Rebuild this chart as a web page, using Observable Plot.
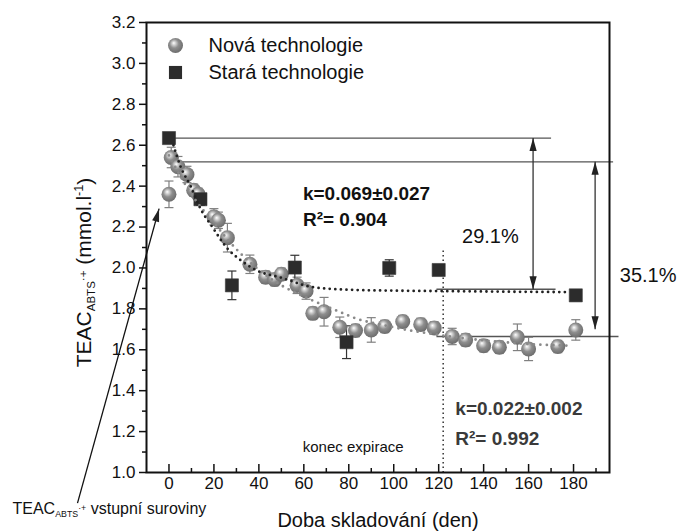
<!DOCTYPE html>
<html><head><meta charset="utf-8">
<script src="https://cdn.jsdelivr.net/npm/d3@7"></script>
<script src="https://cdn.jsdelivr.net/npm/@observablehq/plot@0.6"></script>
<style>
body{margin:0;background:#fff}
#chart svg{font-family:"Liberation Sans",Arial,Helvetica,sans-serif}
</style>
</head><body><div id="chart"></div>
<script>
// ---------- data ----------
const novaDays   = [0, 1, 4, 8, 11, 13, 20, 22, 26, 36, 43, 47, 50, 57, 61, 64, 69, 76, 83, 90, 96, 104, 112, 118, 126, 132, 140, 147, 155, 160, 173, 181];
const novaValues = [2.36, 2.54, 2.495, 2.457, 2.38, 2.36, 2.25, 2.233, 2.148, 2.018, 1.955, 1.943, 1.969, 1.915, 1.887, 1.778, 1.786, 1.71, 1.694, 1.697, 1.714, 1.738, 1.724, 1.707, 1.665, 1.648, 1.62, 1.612, 1.661, 1.604, 1.616, 1.697];
const novaErrors = [0.065, 0.05, 0.05, 0.04, 0.03, 0.03, 0.04, 0.04, 0.07, 0.045, 0.03, 0.03, 0.03, 0.04, 0.04, 0.03, 0.07, 0.05, 0.03, 0.06, 0.03, 0.03, 0.03, 0.03, 0.04, 0.03, 0.03, 0.03, 0.065, 0.057, 0.03, 0.05];

const staraDays   = [0, 14, 28, 56, 79, 98, 120, 181];
const staraValues = [2.635, 2.336, 1.915, 2.002, 1.637, 2.0, 1.99, 1.866];
const staraErrors = [0.02, 0.03, 0.07, 0.06, 0.08, 0.04, 0.02, 0.02];

// dotted fitted curves
const fitStaraDays   = [2, 5, 9.6, 14, 19.3, 26, 32, 39, 50, 64, 79, 100, 120, 150, 178];
const fitStaraValues = [2.60, 2.50, 2.40, 2.29, 2.20, 2.095, 2.037, 1.988, 1.952, 1.906, 1.894, 1.889, 1.887, 1.884, 1.882];
const fitNovaDays    = [0, 10, 20, 31, 45, 64.5, 75.6, 83.7, 94, 106, 115, 130, 144, 165, 178];
const fitNovaValues  = [2.55, 2.36, 2.22, 2.08, 1.95, 1.838, 1.787, 1.751, 1.724, 1.697, 1.681, 1.658, 1.642, 1.625, 1.62];

const xMajorTicks = [0, 20, 40, 60, 80, 100, 120, 140, 160, 180];
const xMinorTicks = [10, 30, 50, 70, 90, 110, 130, 150, 170, 190];
const yMajorTicks = [1.0, 1.2, 1.4, 1.6, 1.8, 2.0, 2.2, 2.4, 2.6, 2.8, 3.0, 3.2];
const yMinorTicks = [1.1, 1.3, 1.5, 1.7, 1.9, 2.1, 2.3, 2.5, 2.7, 2.9, 3.1];

const legendLabels = ["Nová technologie", "Stará technologie"];

// reference levels (horizontal lines) and arrows
const refLevels = [
  {y: 2.635, x1: 0,   x2: 170},
  {y: 2.519, x1: 1.5, x2: 197.6},
  {y: 1.896, x1: 119, x2: 172},
  {y: 1.665, x1: 119, x2: 200}
];
const dimArrows = [
  {x: 162,   top: 2.635, bottom: 1.896, label: "29.1%", lx: 143,   ly: 2.151},
  {x: 189.6, top: 2.519, bottom: 1.70,  label: "35.1%", lx: 213.2, ly: 1.964}
];
const expiryDay = 122, expiryTop = 2.1;
const inputArrow = {x1: -40.7, y1: 0.85, x2: -4.4, y2: 2.29};

// ---------- build ----------
const xDomain = [-10, 196], yDomain = [1.0, 3.2];
const W = 681, H = 532, mL = 146, mR = 72, mT = 22, mB = 60;
const sx = d3.scaleLinear(xDomain, [mL, W - mR]);
const sy = d3.scaleLinear(yDomain, [H - mB, mT]);

const nova = novaDays.map((d, i) => ({d, v: novaValues[i], e: novaErrors[i]}));
const stara = staraDays.map((d, i) => ({d, v: staraValues[i], e: staraErrors[i]}));
const fitS = fitStaraDays.map((d, i) => ({d, v: fitStaraValues[i]}));
const fitN = fitNovaDays.map((d, i) => ({d, v: fitNovaValues[i]}));

const capSymbol = {draw(ctx) { ctx.moveTo(-4.5, 0); ctx.lineTo(4.5, 0); }};
const headSymbol = {draw(ctx) { ctx.moveTo(0, 0); ctx.lineTo(3.6, 13); ctx.lineTo(-3.6, 13); ctx.closePath(); }};

const heads = [];
dimArrows.forEach(a => { heads.push({x: a.x, y: a.top, r: 0}); heads.push({x: a.x, y: a.bottom, r: 180}); });
const diagAngle = Math.atan2(sx(inputArrow.x2) - sx(inputArrow.x1), -(sy(inputArrow.y2) - sy(inputArrow.y1))) * 180 / Math.PI;
heads.push({x: inputArrow.x2, y: inputArrow.y2, r: diagAngle});

const font = '"Liberation Sans",Arial,Helvetica,sans-serif';

const chart = Plot.plot({
  width: W, height: H,
  marginLeft: mL, marginRight: mR, marginTop: mT, marginBottom: mB,
  x: {domain: xDomain},
  y: {domain: yDomain},
  style: {fontFamily: font, fontSize: "17px", color: "#111", background: "white", overflow: "visible"},
  marks: [
    // axes
    Plot.axisY({ticks: yMajorTicks, tickSize: 7, tickPadding: 4, tickFormat: d3.format(".1f"), fontSize: 17, label: null, strokeWidth: 1.5}),
    Plot.axisY({ticks: yMinorTicks, tickSize: 4, fill: "none", label: null, strokeWidth: 1.5}),
    Plot.axisX({ticks: xMajorTicks, tickSize: -8, fill: "none", label: null, strokeWidth: 1.5}),
    Plot.axisX({ticks: xMinorTicks, tickSize: -4, fill: "none", label: null, strokeWidth: 1.5}),
    Plot.axisX({ticks: xMajorTicks, tickSize: 0, tickPadding: 4, fontSize: 17, label: null}),

    // reference lines
    Plot.link(refLevels, {x1: "x1", x2: "x2", y1: "y", y2: "y", stroke: "#555", strokeWidth: 1.3}),
    Plot.link([{x: expiryDay}], {x1: "x", x2: "x", y1: yDomain[0], y2: expiryTop, stroke: "#333", strokeWidth: 1.5, strokeDasharray: "1.5 3"}),
    Plot.link(dimArrows, {x1: "x", x2: "x", y1: "top", y2: "bottom", stroke: "#333", strokeWidth: 1.3}),
    Plot.link([inputArrow], {x1: "x1", y1: "y1", x2: "x2", y2: "y2", stroke: "#111", strokeWidth: 1.3}),
    Plot.dot(heads, {x: "x", y: "y", rotate: "r", symbol: headSymbol, fill: "#222", stroke: "none", r: 5}),

    // error bars
    Plot.link(nova, {x1: "d", x2: "d", y1: d => d.v - d.e, y2: d => d.v + d.e, stroke: "#808080", strokeWidth: 1.2}),
    Plot.dot(nova, {x: "d", y: d => d.v + d.e, symbol: capSymbol, stroke: "#808080", fill: "none", strokeWidth: 1.2, r: 3}),
    Plot.dot(nova, {x: "d", y: d => d.v - d.e, symbol: capSymbol, stroke: "#808080", fill: "none", strokeWidth: 1.2, r: 3}),
    Plot.link(stara, {x1: "d", x2: "d", y1: d => d.v - d.e, y2: d => d.v + d.e, stroke: "#333", strokeWidth: 1.2}),
    Plot.dot(stara, {x: "d", y: d => d.v + d.e, symbol: capSymbol, stroke: "#333", fill: "none", strokeWidth: 1.2, r: 3}),
    Plot.dot(stara, {x: "d", y: d => d.v - d.e, symbol: capSymbol, stroke: "#333", fill: "none", strokeWidth: 1.2, r: 3}),

    // data points
    Plot.dot(nova, {x: "d", y: "v", r: 7.5, fill: "url(#sph)", stroke: "none"}),
    Plot.dot(stara, {x: "d", y: "v", r: 7.4, symbol: "square", fill: "#2c2c2c", stroke: "#3a3a3a", strokeWidth: 0.6}),

    // fitted curves
    Plot.line(fitN, {x: "d", y: "v", curve: "monotone-x", stroke: "#8a8a8a", strokeWidth: 2.8, strokeDasharray: "0 6.5", strokeLinecap: "round"}),
    Plot.line(fitS, {x: "d", y: "v", curve: "monotone-x", stroke: "#222", strokeWidth: 2.8, strokeDasharray: "0 5.6", strokeLinecap: "round"}),

    // legend
    Plot.dot([legendLabels[0]], {frameAnchor: "top-left", dx: 29, dy: 23, r: 7.5, fill: "url(#sph)", stroke: "none"}),
    Plot.dot([legendLabels[1]], {frameAnchor: "top-left", dx: 29, dy: 50, r: 7.4, symbol: "square", fill: "#2c2c2c"}),
    Plot.text([legendLabels[0]], {frameAnchor: "top-left", dx: 62, dy: 23, text: d => d, textAnchor: "start", lineAnchor: "middle", fontSize: 20, fill: "#111"}),
    Plot.text([legendLabels[1]], {frameAnchor: "top-left", dx: 62, dy: 50, text: d => d, textAnchor: "start", lineAnchor: "middle", fontSize: 20, fill: "#111"}),

    // annotations
    Plot.text(["k=0.069±0.027"], {x: 59.6, y: 2.364, text: d => d, textAnchor: "start", lineAnchor: "middle", fontSize: 19, fontWeight: "bold", fill: "#111"}),
    Plot.text(["R²= 0.904"], {x: 59.6, y: 2.233, text: d => d, textAnchor: "start", lineAnchor: "middle", fontSize: 19, fontWeight: "bold", fill: "#111"}),
    Plot.text(["k=0.022±0.002"], {x: 127.4, y: 1.31, text: d => d, textAnchor: "start", lineAnchor: "middle", fontSize: 19, fontWeight: "bold", fill: "#3a3a3a"}),
    Plot.text(["R²= 0.992"], {x: 127.4, y: 1.163, text: d => d, textAnchor: "start", lineAnchor: "middle", fontSize: 19, fontWeight: "bold", fill: "#3a3a3a"}),
    Plot.text(["konec expirace"], {x: 104.4, y: 1.122, text: d => d, textAnchor: "end", lineAnchor: "middle", fontSize: 15, fill: "#111"}),
    Plot.text(dimArrows, {x: "lx", y: "ly", text: "label", textAnchor: "middle", lineAnchor: "middle", fontSize: 20, fill: "#111"}),

    // axis titles
    Plot.text(["Doba skladování (den)"], {frameAnchor: "bottom", dx: 0, dy: 48, text: d => d, textAnchor: "middle", lineAnchor: "middle", fontSize: 20, fill: "#111"}),
    Plot.text(["TEAC"], {frameAnchor: "left", dx: -62, dy: 25, rotate: -90, text: d => d, textAnchor: "middle", lineAnchor: "middle", fontSize: 21, fill: "#111", className: "ytitle"}),
    Plot.text(["TEAC"], {frameAnchor: "bottom-left", dx: -134, dy: 36, text: d => d, textAnchor: "start", lineAnchor: "middle", fontSize: 16, fill: "#111", className: "inputlabel"}),

    Plot.frame({stroke: "#111", strokeWidth: 2})
  ]
});

// sphere gradient
const svg = d3.select(chart);
const defs = svg.insert("defs", ":first-child");
const g = defs.append("radialGradient").attr("id", "sph").attr("cx", "45%").attr("cy", "42%").attr("r", "60%").attr("fx", "38%").attr("fy", "33%");
g.append("stop").attr("offset", "0%").attr("stop-color", "#ffffff");
g.append("stop").attr("offset", "18%").attr("stop-color", "#d6d6d6");
g.append("stop").attr("offset", "50%").attr("stop-color", "#8e8e8e");
g.append("stop").attr("offset", "100%").attr("stop-color", "#6a6a6a");

// rich text (sub/superscripts) for the TEAC labels
function richTEAC(sel, rest, restSup, tail) {
  sel.each(function () {
    const t = d3.select(this);
    t.text("");
    t.append("tspan").text("TEAC");
    t.append("tspan").attr("font-size", "0.55em").attr("dy", "0.35em").text("ABTS");
    t.append("tspan").attr("font-size", "0.55em").attr("dy", "-0.7em").text("·+");
    t.append("tspan").attr("dy", "0.2em").text(rest);
    if (restSup) {
      t.append("tspan").attr("font-size", "0.6em").attr("dy", "-0.65em").text(restSup);
      t.append("tspan").attr("dy", "0.4em").text(tail);
    }
  });
}
richTEAC(svg.selectAll(".ytitle text"), " (mmol.l", "-1", ")");
richTEAC(svg.selectAll(".inputlabel text"), " vstupní suroviny");

document.getElementById("chart").appendChild(chart);
</script>
</body></html>
